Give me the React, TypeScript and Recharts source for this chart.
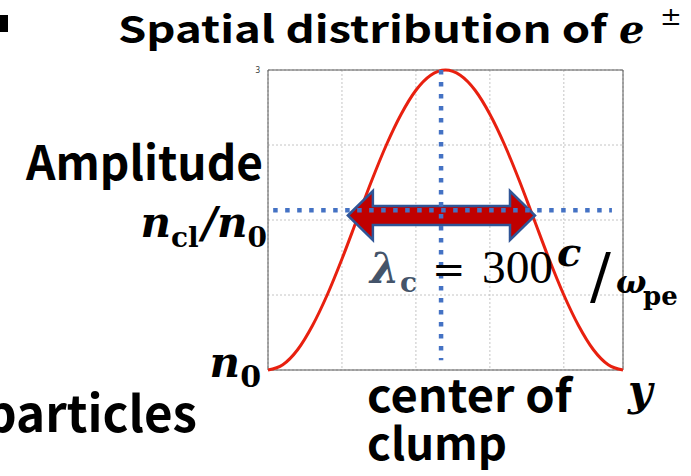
import React from 'react';
import {
  LineChart,
  Line,
  XAxis,
  YAxis,
  CartesianGrid,
  ReferenceLine,
  ReferenceArea,
} from 'recharts';

// position across the clump (grid units) and the density amplitude there
const positions = [
  0, 0.2, 0.4, 0.6, 0.8, 1.0, 1.2, 1.4, 1.6, 1.8, 2.0, 2.2, 2.4,
  2.6, 2.8, 3.0, 3.2, 3.4, 3.6, 3.8, 4.0, 4.2, 4.4, 4.6, 4.8,
];
const amplitude = [
  -1.0, -0.93, -0.73, -0.41, 0.0, 0.48, 1.0, 1.52, 2.0, 2.41, 2.73, 2.93, 3.0,
  2.93, 2.73, 2.41, 2.0, 1.52, 1.0, 0.48, 0.0, -0.41, -0.73, -0.93, -1.0,
];

const xTicks = [0, 1, 2, 3, 4];
const yTicks = [-1, 0, 1, 2, 3];
const shownYTick = 3;

// guide lines: amplitude level n_cl/n_0 and the clump centre
const clumpLevel = 1.13;
const levelFrom = 0.07;
const levelTo = 4.65;
const clumpCenter = 2.34;
const centerBottom = -0.87;

// width marker lambda_c
const arrowLevel = 1.06;
const arrowFrom = 1.08;
const arrowTo = 3.61;

const data = positions.map((y, i) => ({ y, n: amplitude[i] }));

const W = 691;
const H = 476;

function DoubleArrow(props: any) {
  const { x1, x2, y1 } = props;
  const head = 25;
  const half = 24.5;
  const shaft = 9.5;
  const l = Math.min(x1, x2);
  const r = Math.max(x1, x2);
  const y = y1;
  const d =
    `M${l},${y} L${l + head},${y - half} L${l + head},${y - shaft} ` +
    `L${r - head},${y - shaft} L${r - head},${y - half} L${r},${y} ` +
    `L${r - head},${y + half} L${r - head},${y + shaft} L${l + head},${y + shaft} ` +
    `L${l + head},${y + half} Z`;
  return (
    <path d={d} fill="#C00000" stroke="#2F5597" strokeWidth={2.5} strokeLinejoin="miter" />
  );
}

const sans = "'Noto Sans CJK JP', 'Noto Sans', sans-serif";
const serif = "'DejaVu Serif', serif";

export default function App() {
  return (
    <div style={{ position: 'absolute', left: 0, top: 0, width: W, height: H, background: '#fff' }}>
      <LineChart
        width={W}
        height={H}
        data={data}
        margin={{ top: 70, right: 68, bottom: 106, left: 208 }}
      >
        <CartesianGrid stroke="#c4c4c4" strokeDasharray="2 2" />
        <XAxis type="number" dataKey="y" domain={[0, 4.8]} ticks={xTicks} hide />
        <YAxis
          type="number"
          domain={[-1, 3]}
          ticks={yTicks}
          width={60}
          axisLine={false}
          tickLine={false}
          tickMargin={2}
          tick={{ fontSize: 8, fill: '#333', fontFamily: "'Noto Sans', sans-serif" }}
          tickFormatter={(v: number) => (v === shownYTick ? String(v) : '')}
        />
        <ReferenceArea
          x1={0}
          x2={4.8}
          y1={-1}
          y2={3}
          fill="none"
          stroke="#595959"
          strokeWidth={1}
          ifOverflow="visible"
        />
        <Line
          type="monotone"
          dataKey="n"
          stroke="#E8200F"
          strokeWidth={3}
          dot={false}
          isAnimationActive={false}
        />
        <ReferenceLine
          segment={[
            { x: arrowFrom, y: arrowLevel },
            { x: arrowTo, y: arrowLevel },
          ]}
          shape={DoubleArrow}
          ifOverflow="visible"
        />
        <ReferenceLine
          segment={[
            { x: levelFrom, y: clumpLevel },
            { x: levelTo, y: clumpLevel },
          ]}
          stroke="#4472C4"
          strokeWidth={4.5}
          strokeDasharray="4.5 7.5"
          ifOverflow="visible"
        />
        <ReferenceLine
          segment={[
            { x: clumpCenter, y: 3 },
            { x: clumpCenter, y: centerBottom },
          ]}
          stroke="#4472C4"
          strokeWidth={4.5}
          strokeDasharray="4.5 7.5"
          ifOverflow="visible"
        />
      </LineChart>

      <svg
        width={W}
        height={H}
        style={{ position: 'absolute', left: 0, top: 0, pointerEvents: 'none' }}
      >
        <rect x={0} y={15} width={8} height={17} fill="#000" />
        <text
          x={118}
          y={43}
          fontFamily={sans}
          fontWeight={700}
          fontSize={37}
          textLength={489}
          lengthAdjust="spacingAndGlyphs"
        >
          Spatial distribution of
        </text>
        <text x={619} y={43} fontFamily={serif} fontStyle="italic" fontWeight={700} fontSize={40}>
          e
        </text>
        <text x={660} y={25} fontFamily={serif} fontSize={26}>
          ±
        </text>

        <text
          x={26}
          y={180}
          fontFamily={sans}
          fontWeight={700}
          fontSize={47}
          textLength={237}
          lengthAdjust="spacingAndGlyphs"
        >
          Amplitude
        </text>
        <text x={267} y={237} textAnchor="end" fontFamily={serif} fontWeight={700} fontStyle="italic">
          <tspan fontSize={42}>n</tspan>
          <tspan fontSize={28} fontStyle="normal" dy={10}>cl</tspan>
          <tspan fontSize={42} dx={3} dy={-10}>/n</tspan>
          <tspan fontSize={28} fontStyle="normal" dy={10}>0</tspan>
        </text>
        <text x={261} y={377} textAnchor="end" fontFamily={serif} fontWeight={700} fontStyle="italic">
          <tspan fontSize={42}>n</tspan>
          <tspan fontSize={30} fontStyle="normal" dy={10}>0</tspan>
        </text>
        <text
          x={197}
          y={432}
          textAnchor="end"
          fontFamily={sans}
          fontWeight={700}
          fontSize={50}
          textLength={212}
          lengthAdjust="spacingAndGlyphs"
        >
          particles
        </text>

        <text
          x={367}
          y={412}
          fontFamily={sans}
          fontWeight={700}
          fontSize={45}
          textLength={205}
          lengthAdjust="spacingAndGlyphs"
        >
          center of
        </text>
        <text
          x={367}
          y={460}
          fontFamily={sans}
          fontWeight={700}
          fontSize={45}
          textLength={140}
          lengthAdjust="spacingAndGlyphs"
        >
          clump
        </text>
        <text x={628} y={405} fontFamily={serif} fontStyle="italic" fontWeight={700} fontSize={42}>
          y
        </text>

        <text x={370} y={283} fontFamily={serif} fontStyle="italic" fontWeight={700} fontSize={42} fill="#44546A">
          λ
        </text>
        <text x={400} y={292} fontFamily={serif} fontWeight={700} fontSize={28} fill="#44546A">
          c
        </text>
        <text x={432} y={283} fontFamily={serif} fontSize={40} fill="#000">
          =
        </text>
        <text
          x={482}
          y={283}
          fontFamily="'Liberation Serif', serif"
          fontSize={46}
          textLength={71}
          lengthAdjust="spacingAndGlyphs"
        >
          300
        </text>
        <text x={557} y={266} fontFamily={serif} fontStyle="italic" fontWeight={700} fontSize={40}>
          c
        </text>
        <text x={590} y={297} fontFamily={serif} fontSize={62}>
          /
        </text>
        <text x={616} y={293} fontFamily={serif} fontStyle="italic" fontWeight={700} fontSize={32}>
          ω
        </text>
        <text x={643} y={305} fontFamily={serif} fontWeight={700} fontSize={26}>
          pe
        </text>
      </svg>
    </div>
  );
}
